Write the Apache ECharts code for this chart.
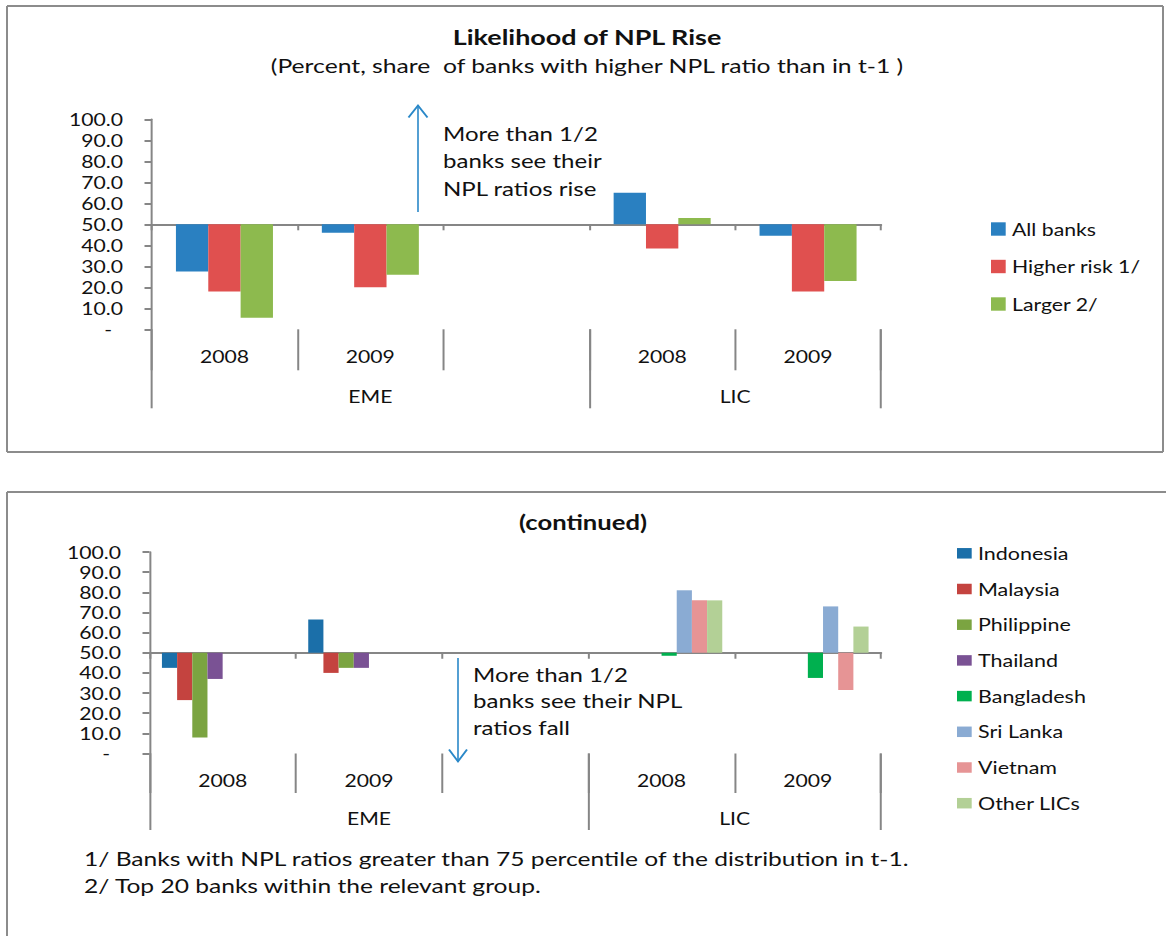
<!DOCTYPE html>
<html><head><meta charset="utf-8">
<script src="https://cdn.jsdelivr.net/npm/echarts@6/dist/echarts.min.js"></script>
<style>
html,body{margin:0;padding:0;background:#fff;overflow:hidden;width:1166px;height:936px}
#wrap{position:absolute;left:0;top:0;height:936px;transform-origin:0 0;}
</style></head><body><div id="wrap"></div>
<script>
// ---------------- data ----------------
const yearLabels = ['2008', '2009', '', '2008', '2009'];
const groupLabels = ['EME', 'LIC'];
const groupSpans = [3, 2];            // categories per group
const crossAt = 50;                   // category axis crosses value axis at 50
const yMin = 0, yMax = 100, yStep = 10;

const topNames = ['All banks', 'Higher risk 1/', 'Larger 2/'];
const allBanks   = [27.5, 46.0, null, 65.0, 44.5];
const higherRisk = [18.0, 20.0, null, 38.5, 18.0];
const larger2    = [5.5, 26.0, null, 53.0, 23.0];

const botNames = ['Indonesia', 'Malaysia', 'Philippine', 'Thailand', 'Bangladesh', 'Sri Lanka', 'Vietnam', 'Other LICs'];
const indonesia  = [42.5, 66.5, null, null, null];
const malaysia   = [26.5, 40.0, null, null, null];
const philippine = [8.0, 42.5, null, null, null];
const thailand   = [37.0, 42.5, null, null, null];
const bangladesh = [null, null, null, 48.5, 37.5];
const sriLanka   = [null, null, null, 81.0, 73.0];
const vietnam    = [null, null, null, 76.0, 31.5];
const otherLICs  = [null, null, null, 76.0, 63.0];

const topColors = ['#2A80C1', '#E0504F', '#8DBA4E'];
const botColors = ['#1B6FA9', '#C4433F', '#7BA441', '#7A5294', '#00B04F', '#8AABD3', '#E69495', '#B3D096'];

// ---------------- layout helpers ----------------
const FONT = 'Lato';
const cv = document.createElement('canvas').getContext('2d');
function tw(str, size, weight) { cv.font = (weight || 'normal') + ' ' + size + 'px ' + FONT; return cv.measureText(str).width; }
const LEG_FS = 16.8;
const s = 128.4 / tw('Higher risk 1/', LEG_FS);   // horizontal stretch of the original picture
const W = 1166 / s;
const X = px => px / s;
function fit(str, target, weight) { return target / s / tw(str, 100, weight) * 100; }

const wrap = document.getElementById('wrap');
wrap.style.width = W + 'px';
wrap.style.transform = 'scaleX(' + s + ')';

const AX = '#868686';
const TXT = '#111111';
const axisFS = fit('100.0', 54);
const catFS = axisFS;

// group boundaries & label positions on a 0..N value scale
const gBounds = [0]; groupSpans.forEach(n => gBounds.push(gBounds[gBounds.length - 1] + n));
const gCenters = groupSpans.map((n, i) => gBounds[i] + n / 2);

function yAxisFor(grid, labelRightPx, axisPx) {
  return {
    type: 'value', gridIndex: grid, min: yMin - crossAt, max: yMax - crossAt, interval: yStep,
    axisLine: { show: true, onZero: false, lineStyle: { color: AX, width: 2 / s } },
    axisTick: { show: true, length: X(7), lineStyle: { color: AX, width: 2 } },
    splitLine: { show: false },
    axisLabel: {
      margin: X(axisPx - labelRightPx), color: TXT, fontFamily: FONT, fontSize: axisFS,
      formatter: v => { const t = v + crossAt; return t === 0 ? '{d|-}' : t.toFixed(1); },
      rich: { d: { fontFamily: FONT, fontSize: axisFS, color: TXT, padding: [0, X(11), 0, 0] } }
    }
  };
}
function xAxesFor(grid, yearLen, groupLen, yearCenterOff, groupCenterOff) {
  return [
    { type: 'category', gridIndex: grid, data: yearLabels,
      axisLine: { show: true, onZero: true, lineStyle: { color: AX, width: 2 } },
      axisTick: { show: true, length: 6, lineStyle: { color: AX, width: 2 / s } },
      axisLabel: { show: false } },
    { type: 'category', gridIndex: grid, data: yearLabels, position: 'bottom',
      axisLine: { show: false, onZero: false },
      axisTick: { show: true, length: yearLen, lineStyle: { color: AX, width: 2 / s } },
      axisLabel: { margin: yearCenterOff - catFS / 2, color: TXT, fontFamily: FONT, fontSize: catFS, interval: 0 } },
    { type: 'value', gridIndex: grid, min: 0, max: gBounds[gBounds.length - 1], position: 'bottom',
      axisLine: { show: false, onZero: false }, splitLine: { show: false },
      axisTick: { show: true, customValues: gBounds, length: groupLen, lineStyle: { color: AX, width: 2 / s } },
      axisLabel: { customValues: gCenters, margin: groupCenterOff - catFS / 2, color: TXT, fontFamily: FONT, fontSize: catFS,
        formatter: v => groupLabels[gCenters.indexOf(v)] } }
  ];
}
const shift = arr => arr.map(v => v == null ? '-' : v - crossAt);

const topData = [allBanks, higherRisk, larger2];
const botData = [indonesia, malaysia, philippine, thailand, bangladesh, sriLanka, vietnam, otherLICs];

const series = [];
topNames.forEach((n, i) => series.push({
  type: 'bar', name: n, xAxisIndex: 0, yAxisIndex: 0, data: shift(topData[i]),
  barCategoryGap: '33.5%', barGap: '0%', itemStyle: { color: topColors[i] }, silent: true
}));
botNames.forEach((n, i) => series.push({
  type: 'bar', name: n, xAxisIndex: 3, yAxisIndex: 1, data: shift(botData[i]),
  barCategoryGap: '17%', barGap: '0%', itemStyle: { color: botColors[i] }, silent: true
}));

const annFS = fit('More than 1/2', 155);
const txt = (x, y, text, fs, extra) => Object.assign({
  type: 'text', x: X(x), y: y, silent: true,
  style: Object.assign({ text: text, fontSize: fs, fontFamily: FONT, fill: TXT, align: 'left', verticalAlign: 'middle' }, extra || {})
});
const hline = (x1, x2, y, w) => ({ type: 'line', silent: true, shape: { x1: X(x1), y1: y, x2: X(x2), y2: y }, style: { stroke: '#8c8c8c', lineWidth: w } });
const vline = (x, y1, y2, w, c) => ({ type: 'line', silent: true, shape: { x1: X(x), y1: y1, x2: X(x), y2: y2 }, style: { stroke: c || '#8c8c8c', lineWidth: w / s } });
const ARC = '#2A88C8';
const foot1 = '1/ Banks with NPL ratios greater than 75 percentile of the distribution in t-1.';
const footFS = fit(foot1, 827);

const graphics = [
  // panel borders
  hline(7, 1163, 6, 2), hline(7, 1163, 452, 2), vline(7, 6, 452, 2), vline(1163, 6, 452, 2),
  hline(7, 1166, 492, 2), vline(7, 492, 936, 2),
  // titles
  txt(587, 37, 'Likelihood of NPL Rise', fit('Likelihood of NPL Rise', 270, 'bold'), { fontWeight: 'bold', align: 'center' }),
  txt(587, 66, '(Percent, share  of banks with higher NPL ratio than in t-1 )', fit('(Percent, share  of banks with higher NPL ratio than in t-1 )', 635), { align: 'center' }),
  txt(583, 522, '(continued)', fit('(continued)', 128, 'bold'), { fontWeight: 'bold', align: 'center' }),
  // annotations
  vline(418, 106, 212, 1.6, ARC),
  { type: 'polyline', silent: true, shape: { points: [[X(408.5), 117.5], [X(418), 105.5], [X(427.5), 117.5]] }, style: { stroke: ARC, fill: 'none', lineWidth: 1.5 } },
  txt(443, 161, 'More than 1/2\nbanks see their\nNPL ratios rise', annFS, { lineHeight: 27.5 }),
  vline(458, 658, 762, 1.6, ARC),
  { type: 'polyline', silent: true, shape: { points: [[X(449), 749.5], [X(458), 761.5], [X(467), 749.5]] }, style: { stroke: ARC, fill: 'none', lineWidth: 1.5 } },
  txt(473, 701, 'More than 1/2\nbanks see their NPL\nratios fall', annFS, { lineHeight: 26.5 }),
  // footnotes
  txt(84, 859, foot1, footFS),
  txt(84, 886, '2/ Top 20 banks within the relevant group.', footFS)
];

const chart = echarts.init(wrap, null, { renderer: 'svg', width: W, height: 936 });
chart.setOption({
  animation: false,
  backgroundColor: '#ffffff',
  textStyle: { fontFamily: FONT },
  grid: [
    { left: X(151.5), right: W - X(881), top: 119.3, height: 210, containLabel: false },
    { left: X(149.5), right: W - X(881), top: 552, height: 201.5, containLabel: false }
  ],
  yAxis: [yAxisFor(0, 123, 151.5), yAxisFor(1, 121, 149.5)],
  xAxis: [].concat(xAxesFor(0, 41, 79, 27, 67), xAxesFor(1, 39.5, 76.5, 26.5, 64.5)),
  legend: [
    { data: topNames, orient: 'vertical', left: X(991), top: 219, icon: 'rect', itemWidth: X(14.7), itemHeight: 13.4,
      itemGap: 17.5, selectedMode: false, padding: 0,
      textStyle: { fontFamily: FONT, fontSize: LEG_FS, color: TXT, lineHeight: 20 } },
    { data: botNames, orient: 'vertical', left: X(957), top: 543.3, icon: 'rect', itemWidth: X(14.7), itemHeight: 10.5,
      itemGap: 15.7, selectedMode: false, padding: 0,
      textStyle: { fontFamily: FONT, fontSize: fit('Bangladesh', 108), color: TXT, lineHeight: 20 } }
  ],
  series: series,
  graphic: graphics
});
</script></body></html>
